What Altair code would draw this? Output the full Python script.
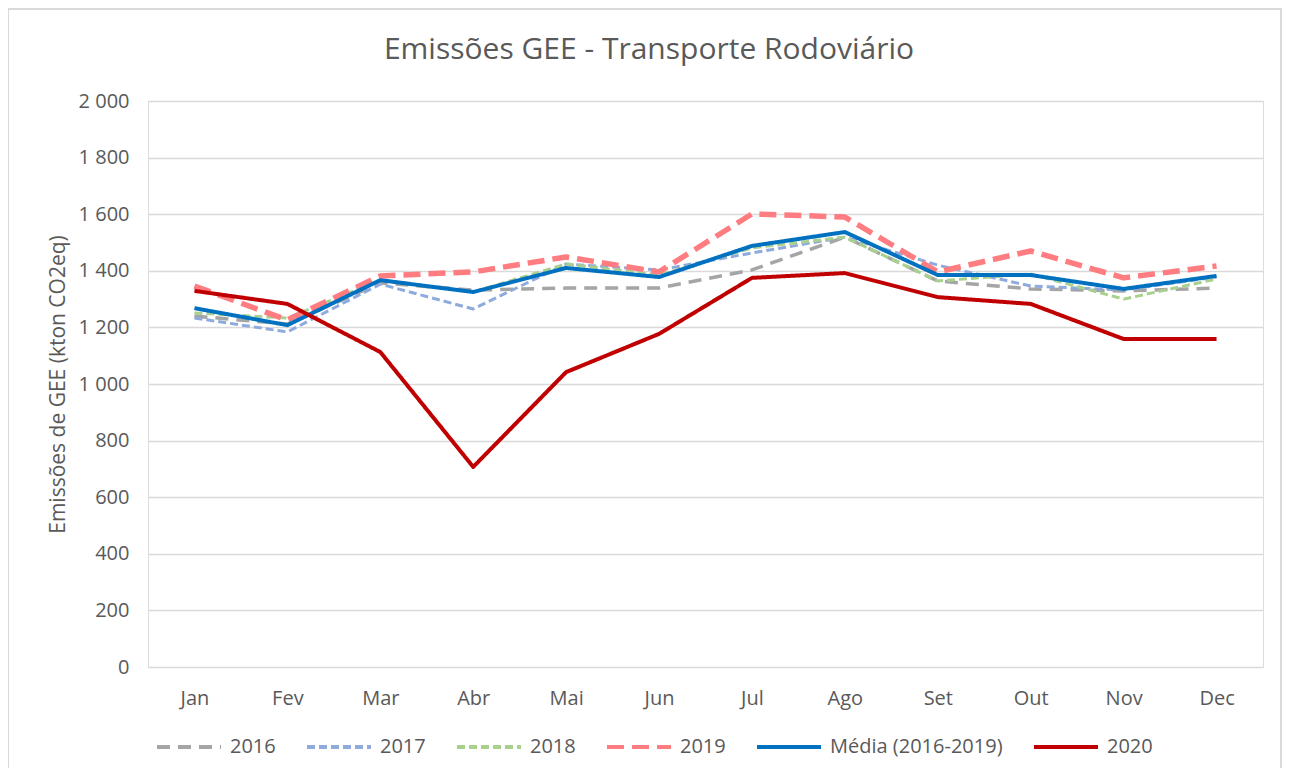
import altair as alt
import pandas as pd

months = ["Jan", "Fev", "Mar", "Abr", "Mai", "Jun", "Jul", "Ago", "Set", "Out", "Nov", "Dec"]
s2016 = [1240, 1212, 1357, 1332, 1339, 1339, 1403, 1519, 1364, 1336, 1329, 1339]
s2017 = [1233, 1184, 1353, 1265, 1424, 1403, 1463, 1519, 1420, 1346, 1332, 1378]
s2018 = [1251, 1233, 1367, 1325, 1424, 1385, 1481, 1519, 1364, 1389, 1300, 1371]
s2019 = [1346, 1226, 1382, 1396, 1449, 1396, 1601, 1590, 1396, 1470, 1375, 1417]
media = [1268, 1208, 1367, 1325, 1410, 1378, 1488, 1537, 1385, 1385, 1336, 1382]
s2020 = [1329, 1283, 1113, 707, 1042, 1177, 1375, 1392, 1307, 1283, 1159, 1159]

series_names = ["2016", "2017", "2018", "2019", "Média (2016-2019)", "2020"]
series_values = [s2016, s2017, s2018, s2019, media, s2020]
colors = ["#A5A5A5", "#8FAADC", "#A9D18E", "#FF7C80", "#0070C0", "#C00000"]
dashes = [[13, 8], [8, 4], [8, 4], [17, 8], [1, 0], [1, 0]]
widths = [3.5, 3, 3, 5.5, 4, 4]
title_text = "Emissões GEE - Transporte Rodoviário"

rows = []
for name, vals, w in zip(series_names, series_values, widths):
    for m, v in zip(months, vals):
        rows.append({"Mês": m, "Série": name, "Valor": v, "w": w})
df = pd.DataFrame(rows)

FONT = "Open Sans"
GREY = "#595959"
FS = 20

legend = alt.Legend(title=None, orient="none", direction="horizontal",
                    columns=6, legendX=7, legendY=612,
                    symbolType="stroke", symbolSize=4096, symbolStrokeWidth=4,
                    labelFontSize=FS, labelColor=GREY, labelFont=FONT, labelLimit=400,
                    labelOffset=7, columnPadding=23)

lines = alt.Chart(df).mark_line(strokeJoin="round").encode(
    x=alt.X("Mês:N", sort=months, scale=alt.Scale(type="point", padding=0.5),
            axis=alt.Axis(title=None, labelAngle=0, ticks=False, domain=False, grid=False,
                          labelPadding=21, labelFontSize=FS, labelColor=GREY, labelFont=FONT)),
    y=alt.Y("Valor:Q", scale=alt.Scale(domain=[0, 2000]),
            axis=alt.Axis(title="Emissões de GEE (kton CO2eq)", values=list(range(0, 2001, 200)),
                          labelExpr="replace(format(datum.value, ','), ',', ' ')",
                          ticks=False, domain=False, gridColor="#D9D9D9", gridWidth=1.3,
                          labelPadding=19, labelFontSize=FS, labelColor=GREY, labelFont=FONT,
                          titleFontSize=21, titleColor=GREY, titleFont=FONT, titleFontWeight="normal",
                          titlePadding=10)),
    color=alt.Color("Série:N", scale=alt.Scale(domain=series_names, range=colors), legend=legend),
    strokeDash=alt.StrokeDash("Série:N", scale=alt.Scale(domain=series_names, range=dashes),
                              legend=legend),
    strokeWidth=alt.StrokeWidth("w:Q", scale=None),
    detail="Série:N",
)

one = pd.DataFrame({"a": [0]})
border = alt.Chart(one).mark_rect(
    fill=None, stroke="#D9D9D9", strokeWidth=2
).encode(x=alt.value(-140), x2=alt.value(1133), y=alt.value(-92), y2=alt.value(700))

title = alt.Chart(one).mark_text(
    text=title_text, font=FONT, fontSize=30, color=GREY, align="center", baseline="middle"
).encode(x=alt.value(501), y=alt.value(-51))

chart = alt.layer(border, title, lines).properties(
    width=1115,
    height=566,
    autosize=alt.AutoSizeParams(type="none"),
    padding={"left": 140, "top": 93, "right": 19, "bottom": 101},
).configure_view(stroke=None).configure(background="white")

chart.save("out.html", embed_options={"renderer": "svg", "actions": False})
